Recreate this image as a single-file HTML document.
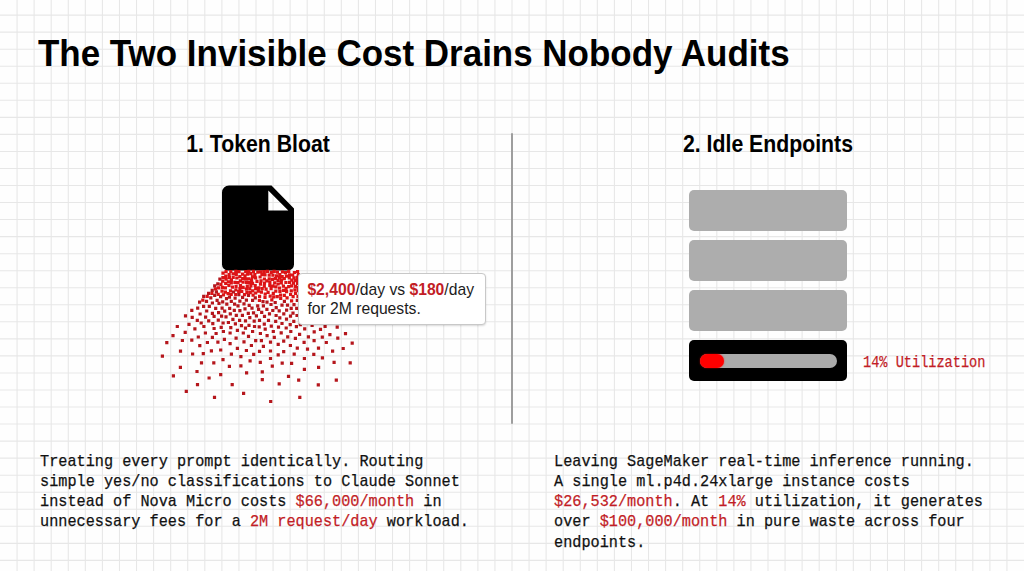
<!DOCTYPE html>
<html><head><meta charset="utf-8">
<style>
*{margin:0;padding:0;box-sizing:border-box}
html,body{width:1024px;height:571px;overflow:hidden;background:#fefefe}
body{position:relative;font-family:"Liberation Sans",sans-serif;color:#000}
#grid{position:absolute;left:0;top:0}
.abs{position:absolute;white-space:nowrap}
#title{left:38px;top:31.7px;font-size:37.2px;font-weight:bold;line-height:42px;color:#000;transform:scaleX(0.94);transform-origin:0 0}
.h2{font-size:23.8px;font-weight:bold;line-height:28px;text-align:center;width:300px;color:#000;transform:scaleX(0.893)}
#h2a{left:108px;top:130px}
#h2b{left:618px;top:130px}
#divider{left:511px;top:133px;width:2px;height:291px;background:#9e9e9e;border-radius:1px}
#tip{left:298.4px;top:272.5px;width:187.6px;height:52px;background:#fff;border:1px solid #c8c8c8;border-radius:4px;box-shadow:0 1px 2px rgba(0,0,0,.15);font-size:15.7px;line-height:18.6px;padding:7.5px 0 0 8px;color:#1c1c1c}
.r{color:#c21d26;font-weight:bold}
.bar{left:689px;width:158px;height:41px;background:#adadad;border-radius:5px}
#b4{background:#000;top:340px}
#track{left:700px;top:353.5px;width:136.5px;height:14.5px;background:#aaa;border-radius:7px}
#fill{left:700px;top:353.5px;width:24px;height:14.5px;background:#ff0000;border-radius:7px;box-shadow:0 0 2px rgba(255,0,0,.7)}
.mono{font-family:"Liberation Mono",monospace;font-size:17px;line-height:20.07px;color:#111;transform:scaleX(0.8945);transform-origin:0 0;-webkit-text-stroke:0.25px currentColor}
.red{color:#c21d26}
#util{left:862.5px;top:353px;font-size:16px;color:#c21d26;transform:scaleX(0.85);transform-origin:0 0}
#p1{left:39.5px;top:452.3px}
#p2{left:553.5px;top:452.3px}
</style></head><body>
<svg id="grid" width="1024" height="571"><path d="M17.07 0V571M34.13 0V571M51.20 0V571M68.27 0V571M85.33 0V571M102.40 0V571M119.47 0V571M136.53 0V571M153.60 0V571M170.67 0V571M187.73 0V571M204.80 0V571M221.87 0V571M238.93 0V571M256.00 0V571M273.07 0V571M290.13 0V571M307.20 0V571M324.27 0V571M341.33 0V571M358.40 0V571M375.47 0V571M392.53 0V571M409.60 0V571M426.67 0V571M443.73 0V571M460.80 0V571M477.87 0V571M494.93 0V571M512.00 0V571M529.07 0V571M546.13 0V571M563.20 0V571M580.27 0V571M597.33 0V571M614.40 0V571M631.47 0V571M648.53 0V571M665.60 0V571M682.67 0V571M699.73 0V571M716.80 0V571M733.87 0V571M750.93 0V571M768.00 0V571M785.07 0V571M802.13 0V571M819.20 0V571M836.27 0V571M853.33 0V571M870.40 0V571M887.47 0V571M904.53 0V571M921.60 0V571M938.67 0V571M955.73 0V571M972.80 0V571M989.87 0V571M1006.93 0V571M0 15.10H1024M0 32.14H1024M0 49.18H1024M0 66.22H1024M0 83.26H1024M0 100.30H1024M0 117.34H1024M0 134.38H1024M0 151.42H1024M0 168.46H1024M0 185.50H1024M0 202.54H1024M0 219.58H1024M0 236.62H1024M0 253.66H1024M0 270.70H1024M0 287.74H1024M0 304.78H1024M0 321.82H1024M0 338.86H1024M0 355.90H1024M0 372.94H1024M0 389.98H1024M0 407.02H1024M0 424.06H1024M0 441.10H1024M0 458.14H1024M0 475.18H1024M0 492.22H1024M0 509.26H1024M0 526.30H1024M0 543.34H1024M0 560.38H1024" stroke="#e7e7e7" stroke-width="1.07" fill="none"/></svg>
<div class="abs" id="title">The Two Invisible Cost Drains Nobody Audits</div>
<div class="abs h2" id="h2a">1. Token Bloat</div>
<div class="abs h2" id="h2b">2. Idle Endpoints</div>
<div class="abs" id="divider"></div>
<svg class="abs" id="doc" style="left:0;top:0" width="1024" height="571">
<path d="M229 185.5H271.5L294 208.4V264.5A6 6 0 0 1 288 270.5H228A6 6 0 0 1 222 264.5V192.5A7 7 0 0 1 229 185.5Z M268.3 190.5V210.5H288.3Z" fill="#000" fill-rule="evenodd"/>
</svg>
<svg class="abs" style="left:0;top:0" width="1024" height="571"><path d="M274.2 289.6h3.2v3.2h-3.2zM291.5 295.1h3.2v3.2h-3.2zM256.2 270.6h3.2v3.2h-3.2zM234.5 284.7h3.2v3.2h-3.2zM260.6 287.1h3.2v3.2h-3.2zM237.4 270.1h3.2v3.2h-3.2zM290.2 278.6h3.2v3.2h-3.2zM220.4 289.5h3.2v3.2h-3.2zM287.1 269.8h3.2v3.2h-3.2zM235.2 276.4h3.2v3.2h-3.2zM293.8 279.0h3.2v3.2h-3.2zM269.5 287.0h3.2v3.2h-3.2zM292.3 276.3h3.2v3.2h-3.2zM293.9 291.8h3.2v3.2h-3.2zM229.7 281.3h3.2v3.2h-3.2zM224.2 274.4h3.2v3.2h-3.2zM265.2 279.3h3.2v3.2h-3.2zM272.5 269.8h3.2v3.2h-3.2zM241.5 280.5h3.2v3.2h-3.2zM255.4 279.8h3.2v3.2h-3.2zM282.7 293.7h3.2v3.2h-3.2zM280.8 270.3h3.2v3.2h-3.2zM262.9 281.4h3.2v3.2h-3.2zM224.5 270.0h3.2v3.2h-3.2zM277.7 276.0h3.2v3.2h-3.2zM245.0 280.7h3.2v3.2h-3.2zM277.9 286.5h3.2v3.2h-3.2zM292.8 270.9h3.2v3.2h-3.2zM246.1 272.6h3.2v3.2h-3.2zM289.7 289.2h3.2v3.2h-3.2zM238.3 287.1h3.2v3.2h-3.2zM231.5 272.2h3.2v3.2h-3.2zM281.8 288.7h3.2v3.2h-3.2zM249.3 284.3h3.2v3.2h-3.2zM278.3 289.9h3.2v3.2h-3.2zM253.2 273.1h3.2v3.2h-3.2zM284.8 274.5h3.2v3.2h-3.2zM274.3 285.3h3.2v3.2h-3.2zM296.0 281.8h3.2v3.2h-3.2zM241.5 285.7h3.2v3.2h-3.2zM240.9 272.6h3.2v3.2h-3.2zM279.7 281.3h3.2v3.2h-3.2zM268.6 294.5h3.2v3.2h-3.2zM273.1 281.3h3.2v3.2h-3.2zM259.8 290.5h3.2v3.2h-3.2zM262.5 270.1h3.2v3.2h-3.2zM270.9 277.7h3.2v3.2h-3.2zM281.8 284.5h3.2v3.2h-3.2zM268.3 280.8h3.2v3.2h-3.2zM284.3 280.9h3.2v3.2h-3.2zM257.2 286.3h3.2v3.2h-3.2zM271.7 291.8h3.2v3.2h-3.2zM258.0 294.7h3.2v3.2h-3.2zM245.3 291.0h3.2v3.2h-3.2zM268.2 283.8h3.2v3.2h-3.2zM221.3 275.9h3.2v3.2h-3.2zM245.7 284.6h3.2v3.2h-3.2zM251.8 269.7h3.2v3.2h-3.2zM250.0 278.6h3.2v3.2h-3.2zM293.3 288.3h3.2v3.2h-3.2zM263.4 295.7h3.2v3.2h-3.2zM263.4 273.2h3.2v3.2h-3.2zM251.0 281.7h3.2v3.2h-3.2zM241.1 276.9h3.2v3.2h-3.2zM267.6 273.6h3.2v3.2h-3.2zM238.9 283.9h3.2v3.2h-3.2zM229.8 278.3h3.2v3.2h-3.2zM251.1 289.2h3.2v3.2h-3.2zM259.4 279.2h3.2v3.2h-3.2zM290.0 284.3h3.2v3.2h-3.2zM263.6 292.4h3.2v3.2h-3.2zM282.7 277.1h3.2v3.2h-3.2zM275.8 270.5h3.2v3.2h-3.2zM264.5 287.5h3.2v3.2h-3.2zM223.8 286.2h3.2v3.2h-3.2zM247.3 277.2h3.2v3.2h-3.2zM221.9 293.3h3.2v3.2h-3.2zM240.2 289.7h3.2v3.2h-3.2zM244.3 277.2h3.2v3.2h-3.2zM291.9 281.5h3.2v3.2h-3.2zM271.3 273.5h3.2v3.2h-3.2zM219.3 282.8h3.2v3.2h-3.2zM221.1 279.5h3.2v3.2h-3.2zM258.5 275.4h3.2v3.2h-3.2zM258.9 282.6h3.2v3.2h-3.2zM289.0 292.9h3.2v3.2h-3.2zM224.5 277.5h3.2v3.2h-3.2zM224.1 281.7h3.2v3.2h-3.2zM287.1 285.1h3.2v3.2h-3.2zM236.4 281.0h3.2v3.2h-3.2zM254.1 291.4h3.2v3.2h-3.2zM285.5 296.3h3.2v3.2h-3.2zM234.7 272.9h3.2v3.2h-3.2zM278.2 273.1h3.2v3.2h-3.2zM227.6 273.0h3.2v3.2h-3.2zM217.0 286.2h3.2v3.2h-3.2zM253.6 283.9h3.2v3.2h-3.2zM249.4 272.1h3.2v3.2h-3.2zM262.8 277.4h3.2v3.2h-3.2zM254.0 276.3h3.2v3.2h-3.2zM228.9 289.3h3.2v3.2h-3.2zM270.2 298.2h3.2v3.2h-3.2zM223.8 290.5h3.2v3.2h-3.2zM229.6 292.9h3.2v3.2h-3.2zM276.5 278.8h3.2v3.2h-3.2zM296.7 273.0h3.2v3.2h-3.2zM275.6 295.0h3.2v3.2h-3.2zM251.5 293.5h3.2v3.2h-3.2zM221.4 271.5h3.2v3.2h-3.2zM266.5 290.8h3.2v3.2h-3.2zM242.9 293.1h3.2v3.2h-3.2zM227.3 283.9h3.2v3.2h-3.2zM233.3 280.7h3.2v3.2h-3.2zM288.0 273.3h3.2v3.2h-3.2zM250.9 275.2h3.2v3.2h-3.2zM295.7 275.8h3.2v3.2h-3.2zM244.1 270.0h3.2v3.2h-3.2zM285.0 290.1h3.2v3.2h-3.2zM230.8 285.5h3.2v3.2h-3.2zM226.5 292.1h3.2v3.2h-3.2zM265.8 269.8h3.2v3.2h-3.2zM257.8 298.7h3.2v3.2h-3.2zM248.1 287.2h3.2v3.2h-3.2zM238.3 275.0h3.2v3.2h-3.2zM296.8 289.0h3.2v3.2h-3.2zM231.6 275.9h3.2v3.2h-3.2zM254.1 287.0h3.2v3.2h-3.2zM293.8 284.7h3.2v3.2h-3.2zM288.0 280.7h3.2v3.2h-3.2zM226.8 280.2h3.2v3.2h-3.2zM296.4 294.7h3.2v3.2h-3.2zM269.6 270.7h3.2v3.2h-3.2zM216.6 292.8h3.2v3.2h-3.2zM234.3 288.3h3.2v3.2h-3.2zM274.9 274.2h3.2v3.2h-3.2zM290.0 299.2h3.2v3.2h-3.2zM276.5 282.4h3.2v3.2h-3.2zM287.7 276.3h3.2v3.2h-3.2zM262.7 284.6h3.2v3.2h-3.2zM259.2 270.3h3.2v3.2h-3.2zM280.6 274.9h3.2v3.2h-3.2zM279.1 296.9h3.2v3.2h-3.2zM278.9 293.5h3.2v3.2h-3.2zM205.6 294.8h3.2v3.2h-3.2zM267.6 277.2h3.2v3.2h-3.2zM234.1 292.9h3.2v3.2h-3.2zM213.8 287.3h3.2v3.2h-3.2zM271.2 284.5h3.2v3.2h-3.2zM244.8 287.6h3.2v3.2h-3.2zM283.9 271.0h3.2v3.2h-3.2zM227.8 276.0h3.2v3.2h-3.2zM238.8 279.2h3.2v3.2h-3.2zM247.3 269.7h3.2v3.2h-3.2zM229.2 269.9h3.2v3.2h-3.2zM220.8 285.8h3.2v3.2h-3.2zM210.3 291.8h3.2v3.2h-3.2zM256.7 289.5h3.2v3.2h-3.2zM296.0 269.9h3.2v3.2h-3.2zM234.2 269.8h3.2v3.2h-3.2zM284.5 286.8h3.2v3.2h-3.2zM248.6 291.1h3.2v3.2h-3.2zM279.9 278.2h3.2v3.2h-3.2zM296.6 285.7h3.2v3.2h-3.2zM296.8 278.9h3.2v3.2h-3.2zM272.1 295.3h3.2v3.2h-3.2zM201.2 298.5h3.2v3.2h-3.2zM243.4 274.2h3.2v3.2h-3.2zM273.8 277.0h3.2v3.2h-3.2zM260.3 273.0h3.2v3.2h-3.2zM237.1 290.0h3.2v3.2h-3.2zM248.1 281.1h3.2v3.2h-3.2zM291.1 273.4h3.2v3.2h-3.2z" fill="#dc1416"/><path d="M160.8 354.5h3.2v3.2h-3.2zM178.9 349.5h3.2v3.2h-3.2zM191.0 352.4h3.2v3.2h-3.2zM201.7 352.1h3.2v3.2h-3.2zM209.8 349.2h3.2v3.2h-3.2zM219.1 348.4h3.2v3.2h-3.2zM229.8 352.6h3.2v3.2h-3.2zM239.3 355.0h3.2v3.2h-3.2zM244.8 348.9h3.2v3.2h-3.2zM252.1 352.8h3.2v3.2h-3.2zM248.5 359.2h3.2v3.2h-3.2zM221.4 358.1h3.2v3.2h-3.2zM199.9 361.2h3.2v3.2h-3.2zM212.2 361.2h3.2v3.2h-3.2zM227.8 364.7h3.2v3.2h-3.2zM239.3 364.2h3.2v3.2h-3.2zM178.8 365.7h3.2v3.2h-3.2zM195.4 369.9h3.2v3.2h-3.2zM245.0 371.3h3.2v3.2h-3.2zM219.1 373.1h3.2v3.2h-3.2zM171.8 374.3h3.2v3.2h-3.2zM207.5 376.4h3.2v3.2h-3.2zM195.9 383.1h3.2v3.2h-3.2zM230.6 383.1h3.2v3.2h-3.2zM184.7 389.7h3.2v3.2h-3.2zM242.0 391.7h3.2v3.2h-3.2zM212.9 395.7h3.2v3.2h-3.2zM254.1 339.0h3.2v3.2h-3.2zM259.8 339.0h3.2v3.2h-3.2zM268.9 340.5h3.2v3.2h-3.2zM276.6 342.7h3.2v3.2h-3.2zM282.1 339.5h3.2v3.2h-3.2zM302.5 340.7h3.2v3.2h-3.2zM312.5 339.0h3.2v3.2h-3.2zM324.7 340.9h3.2v3.2h-3.2zM350.6 341.5h3.2v3.2h-3.2zM249.8 343.9h3.2v3.2h-3.2zM261.8 344.7h3.2v3.2h-3.2zM288.8 343.9h3.2v3.2h-3.2zM295.7 346.6h3.2v3.2h-3.2zM305.9 347.5h3.2v3.2h-3.2zM316.9 346.6h3.2v3.2h-3.2zM341.6 346.9h3.2v3.2h-3.2zM257.9 349.8h3.2v3.2h-3.2zM268.9 349.4h3.2v3.2h-3.2zM282.1 350.0h3.2v3.2h-3.2zM331.0 349.6h3.2v3.2h-3.2zM276.6 353.2h3.2v3.2h-3.2zM292.6 352.6h3.2v3.2h-3.2zM312.2 352.8h3.2v3.2h-3.2zM268.9 356.9h3.2v3.2h-3.2zM302.8 356.9h3.2v3.2h-3.2zM320.8 356.2h3.2v3.2h-3.2zM258.7 360.8h3.2v3.2h-3.2zM280.6 361.5h3.2v3.2h-3.2zM290.0 361.7h3.2v3.2h-3.2zM332.5 360.8h3.2v3.2h-3.2zM348.6 361.2h3.2v3.2h-3.2zM270.7 364.6h3.2v3.2h-3.2zM317.0 365.7h3.2v3.2h-3.2zM302.8 367.8h3.2v3.2h-3.2zM260.7 370.3h3.2v3.2h-3.2zM286.9 374.8h3.2v3.2h-3.2zM260.7 378.0h3.2v3.2h-3.2zM297.1 378.6h3.2v3.2h-3.2zM334.7 378.6h3.2v3.2h-3.2zM277.6 382.2h3.2v3.2h-3.2zM316.7 383.2h3.2v3.2h-3.2zM298.2 395.7h3.2v3.2h-3.2zM269.1 399.9h3.2v3.2h-3.2zM202.0 304.7h3.2v3.2h-3.2zM207.7 304.7h3.2v3.2h-3.2zM196.1 306.5h3.2v3.2h-3.2zM190.2 308.8h3.2v3.2h-3.2zM205.1 309.4h3.2v3.2h-3.2zM198.5 312.4h3.2v3.2h-3.2zM210.8 311.7h3.2v3.2h-3.2zM183.9 314.3h3.2v3.2h-3.2zM190.6 315.7h3.2v3.2h-3.2zM204.0 315.5h3.2v3.2h-3.2zM212.5 314.8h3.2v3.2h-3.2zM195.7 318.7h3.2v3.2h-3.2zM207.1 319.2h3.2v3.2h-3.2zM199.6 321.4h3.2v3.2h-3.2zM211.2 322.0h3.2v3.2h-3.2zM187.4 322.7h3.2v3.2h-3.2zM175.7 324.9h3.2v3.2h-3.2zM202.3 324.9h3.2v3.2h-3.2zM193.3 327.2h3.2v3.2h-3.2zM212.5 326.9h3.2v3.2h-3.2zM183.6 330.8h3.2v3.2h-3.2zM203.8 331.4h3.2v3.2h-3.2zM171.4 334.0h3.2v3.2h-3.2zM196.7 335.4h3.2v3.2h-3.2zM210.8 335.8h3.2v3.2h-3.2zM180.8 338.9h3.2v3.2h-3.2zM190.2 338.6h3.2v3.2h-3.2zM205.8 340.9h3.2v3.2h-3.2zM165.2 341.1h3.2v3.2h-3.2zM198.2 344.1h3.2v3.2h-3.2zM236.4 304.3h3.2v3.2h-3.2zM247.6 303.8h3.2v3.2h-3.2zM256.1 304.3h3.2v3.2h-3.2zM261.8 304.3h3.2v3.2h-3.2zM214.1 306.7h3.2v3.2h-3.2zM220.5 306.5h3.2v3.2h-3.2zM228.1 306.7h3.2v3.2h-3.2zM243.4 307.3h3.2v3.2h-3.2zM250.4 306.5h3.2v3.2h-3.2zM257.0 307.8h3.2v3.2h-3.2zM265.3 307.8h3.2v3.2h-3.2zM223.1 309.5h3.2v3.2h-3.2zM232.7 308.8h3.2v3.2h-3.2zM238.3 309.1h3.2v3.2h-3.2zM260.1 310.8h3.2v3.2h-3.2zM217.0 311.1h3.2v3.2h-3.2zM228.7 312.2h3.2v3.2h-3.2zM246.7 311.7h3.2v3.2h-3.2zM251.9 311.3h3.2v3.2h-3.2zM267.9 312.2h3.2v3.2h-3.2zM220.0 314.6h3.2v3.2h-3.2zM224.4 315.2h3.2v3.2h-3.2zM234.7 313.7h3.2v3.2h-3.2zM240.8 313.7h3.2v3.2h-3.2zM254.8 314.3h3.2v3.2h-3.2zM262.9 314.8h3.2v3.2h-3.2zM248.2 316.1h3.2v3.2h-3.2zM216.7 318.5h3.2v3.2h-3.2zM231.3 317.8h3.2v3.2h-3.2zM238.0 318.7h3.2v3.2h-3.2zM243.9 319.2h3.2v3.2h-3.2zM252.6 319.6h3.2v3.2h-3.2zM257.9 318.7h3.2v3.2h-3.2zM266.9 318.7h3.2v3.2h-3.2zM221.5 321.4h3.2v3.2h-3.2zM226.8 320.9h3.2v3.2h-3.2zM233.8 322.2h3.2v3.2h-3.2zM262.7 322.5h3.2v3.2h-3.2zM239.9 324.0h3.2v3.2h-3.2zM247.4 323.7h3.2v3.2h-3.2zM252.9 324.9h3.2v3.2h-3.2zM257.6 325.3h3.2v3.2h-3.2zM219.6 325.7h3.2v3.2h-3.2zM229.2 326.0h3.2v3.2h-3.2zM243.9 326.6h3.2v3.2h-3.2zM263.6 327.5h3.2v3.2h-3.2zM235.8 328.8h3.2v3.2h-3.2zM221.8 329.9h3.2v3.2h-3.2zM251.0 329.9h3.2v3.2h-3.2zM214.5 331.9h3.2v3.2h-3.2zM228.5 331.4h3.2v3.2h-3.2zM241.7 331.4h3.2v3.2h-3.2zM258.8 331.9h3.2v3.2h-3.2zM246.9 334.7h3.2v3.2h-3.2zM265.5 334.0h3.2v3.2h-3.2zM222.8 337.8h3.2v3.2h-3.2zM234.5 336.5h3.2v3.2h-3.2zM216.3 340.6h3.2v3.2h-3.2zM242.4 340.2h3.2v3.2h-3.2zM228.5 342.1h3.2v3.2h-3.2zM235.8 346.7h3.2v3.2h-3.2zM274.5 313.9h3.2v3.2h-3.2zM288.9 314.5h3.2v3.2h-3.2zM295.4 313.9h3.2v3.2h-3.2zM278.2 316.2h3.2v3.2h-3.2zM284.9 317.6h3.2v3.2h-3.2zM274.1 319.7h3.2v3.2h-3.2zM292.2 319.7h3.2v3.2h-3.2zM280.4 321.9h3.2v3.2h-3.2zM288.6 323.1h3.2v3.2h-3.2zM298.7 323.1h3.2v3.2h-3.2zM310.5 323.8h3.2v3.2h-3.2zM323.5 324.7h3.2v3.2h-3.2zM335.6 325.6h3.2v3.2h-3.2zM269.7 324.5h3.2v3.2h-3.2zM276.9 325.6h3.2v3.2h-3.2zM284.6 326.4h3.2v3.2h-3.2zM294.8 325.0h3.2v3.2h-3.2zM303.1 327.3h3.2v3.2h-3.2zM318.9 327.8h3.2v3.2h-3.2zM271.7 329.9h3.2v3.2h-3.2zM289.2 329.9h3.2v3.2h-3.2zM312.6 330.3h3.2v3.2h-3.2zM279.6 331.2h3.2v3.2h-3.2zM343.9 332.0h3.2v3.2h-3.2zM328.3 333.1h3.2v3.2h-3.2zM298.0 332.7h3.2v3.2h-3.2zM272.7 335.7h3.2v3.2h-3.2zM286.1 335.2h3.2v3.2h-3.2zM306.8 335.2h3.2v3.2h-3.2zM320.7 335.5h3.2v3.2h-3.2zM293.8 336.8h3.2v3.2h-3.2zM336.2 336.6h3.2v3.2h-3.2zM210.6 288.7h3.2v3.2h-3.2zM207.0 291.8h3.2v3.2h-3.2zM202.1 294.8h3.2v3.2h-3.2zM213.1 293.7h3.2v3.2h-3.2zM209.2 296.2h3.2v3.2h-3.2zM198.0 300.6h3.2v3.2h-3.2zM204.9 299.7h3.2v3.2h-3.2zM210.8 301.4h3.2v3.2h-3.2zM213.1 284.3h3.2v3.2h-3.2zM216.2 282.2h3.2v3.2h-3.2zM218.3 277.6h3.2v3.2h-3.2zM214.8 290.2h3.2v3.2h-3.2zM265.4 300.6h3.2v3.2h-3.2zM261.4 300.0h3.2v3.2h-3.2zM269.4 302.9h3.2v3.2h-3.2zM273.6 300.9h3.2v3.2h-3.2zM280.4 303.6h3.2v3.2h-3.2zM282.8 299.7h3.2v3.2h-3.2zM285.9 303.6h3.2v3.2h-3.2zM292.4 303.0h3.2v3.2h-3.2zM295.7 298.7h3.2v3.2h-3.2zM271.2 308.9h3.2v3.2h-3.2zM274.6 306.1h3.2v3.2h-3.2zM277.6 309.2h3.2v3.2h-3.2zM285.0 308.6h3.2v3.2h-3.2zM289.6 306.7h3.2v3.2h-3.2zM295.1 306.7h3.2v3.2h-3.2zM282.2 312.2h3.2v3.2h-3.2zM291.4 311.6h3.2v3.2h-3.2zM215.5 298.7h3.2v3.2h-3.2zM219.0 295.0h3.2v3.2h-3.2zM217.4 301.7h3.2v3.2h-3.2zM221.1 300.3h3.2v3.2h-3.2zM224.9 297.1h3.2v3.2h-3.2zM227.9 295.5h3.2v3.2h-3.2zM225.2 302.5h3.2v3.2h-3.2zM229.7 299.8h3.2v3.2h-3.2zM233.0 302.5h3.2v3.2h-3.2zM233.5 296.6h3.2v3.2h-3.2zM238.3 299.5h3.2v3.2h-3.2zM241.0 295.8h3.2v3.2h-3.2zM242.4 302.2h3.2v3.2h-3.2zM244.8 298.5h3.2v3.2h-3.2zM246.9 293.9h3.2v3.2h-3.2zM251.0 298.7h3.2v3.2h-3.2zM253.7 296.3h3.2v3.2h-3.2zM237.3 293.1h3.2v3.2h-3.2zM231.9 290.4h3.2v3.2h-3.2z" fill="#b5161c"/></svg>
<div class="abs" id="tip"><span class="r">$2,400</span>/day vs <span class="r">$180</span>/day<br>for 2M requests.</div>
<div class="abs bar" style="top:190px"></div>
<div class="abs bar" style="top:240px"></div>
<div class="abs bar" style="top:290px"></div>
<div class="abs bar" id="b4"></div>
<div class="abs" id="track"></div>
<div class="abs" id="fill"></div>
<div class="abs mono" id="util">14% Utilization</div>
<div class="abs mono" id="p1">Treating every prompt identically. Routing<br>simple yes/no classifications to Claude Sonnet<br>instead of Nova Micro costs <span class="red">$66,000/month</span> in<br>unnecessary fees for a <span class="red">2M request/day</span> workload.</div>
<div class="abs mono" id="p2">Leaving SageMaker real-time inference running.<br>A single ml.p4d.24xlarge instance costs<br><span class="red">$26,532/month</span>. At <span class="red">14%</span> utilization, it generates<br>over <span class="red">$100,000/month</span> in pure waste across four<br>endpoints.</div>
</body></html>
